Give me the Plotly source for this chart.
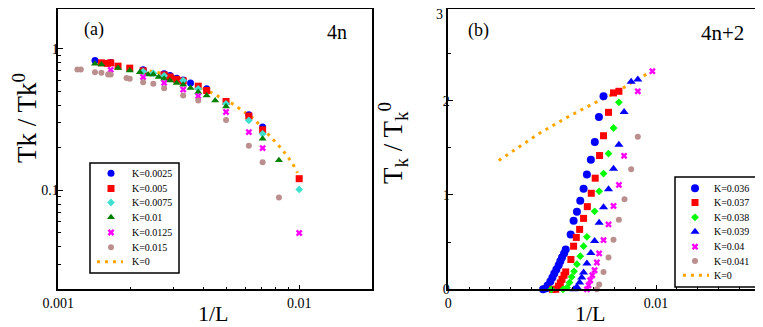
import plotly.graph_objects as go

# ---------------- data: panel (a), 4n ----------------
a_labels = ["K=0.0025", "K=0.005", "K=0.0075", "K=0.01", "K=0.0125", "K=0.015", "K=0"]

a_x_0025 = [0.00142, 0.00165, 0.00225, 0.00275, 0.00291, 0.0031, 0.0033, 0.00354, 0.00413, 0.00618, 0.00705]
a_y_0025 = [0.827, 0.803, 0.711, 0.666, 0.648, 0.621, 0.604, 0.575, 0.522, 0.342, 0.280]

a_x_005 = [0.00151, 0.0016, 0.00165, 0.00177, 0.00198, 0.00225, 0.00275, 0.00291, 0.0031, 0.0033, 0.00381, 0.00413, 0.00497, 0.00618, 0.00705, 0.01]
a_y_005 = [0.797, 0.790, 0.797, 0.755, 0.731, 0.699, 0.655, 0.634, 0.609, 0.594, 0.545, 0.508, 0.425, 0.335, 0.268, 0.121]

a_x_0075 = [0.00225, 0.00248, 0.00275, 0.0033, 0.00381, 0.00497, 0.00618, 0.00705, 0.01]
a_y_0075 = [0.691, 0.674, 0.645, 0.597, 0.522, 0.409, 0.312, 0.251, 0.1016]

a_x_01 = [0.00142, 0.00151, 0.00177, 0.00198, 0.00218, 0.00236, 0.00248, 0.00261, 0.00275, 0.00291, 0.0031, 0.0033, 0.00354, 0.00381, 0.00413, 0.00448, 0.00497, 0.00705, 0.00824]
a_y_01 = [0.784, 0.775, 0.734, 0.703, 0.685, 0.659, 0.659, 0.632, 0.614, 0.597, 0.575, 0.557, 0.530, 0.495, 0.468, 0.432, 0.392, 0.232, 0.163]

a_x_0125 = [0.00165, 0.00225, 0.00275, 0.0033, 0.00381, 0.00497, 0.00618, 0.00705, 0.01]
a_y_0125 = [0.711, 0.632, 0.575, 0.516, 0.464, 0.358, 0.258, 0.199, 0.050]

a_x_015 = [0.0012, 0.00124, 0.00142, 0.00151, 0.00161, 0.00165, 0.00192, 0.00198, 0.00225, 0.00248, 0.00275, 0.0033, 0.00381, 0.00497, 0.00618, 0.00705, 0.00824]
a_y_015 = [0.714, 0.714, 0.685, 0.677, 0.659, 0.659, 0.624, 0.614, 0.582, 0.566, 0.528, 0.468, 0.432, 0.315, 0.207, 0.158, 0.089]

a_x_k0 = [0.00222, 0.00275, 0.00352, 0.00438, 0.00535, 0.00648, 0.00765, 0.0085, 0.00938, 0.00984]
a_y_k0 = [0.716, 0.666, 0.590, 0.487, 0.405, 0.321, 0.239, 0.195, 0.155, 0.133]

# ---------------- data: panel (b), 4n+2 ----------------
b_labels = ["K=0.036", "K=0.037", "K=0.038", "K=0.039", "K=0.04", "K=0.041", "K=0"]

b_x_036 = [0.00456, 0.00471, 0.00478, 0.00491, 0.00501, 0.0051, 0.0052, 0.00531, 0.00539, 0.00547, 0.00557, 0.00565, 0.00589, 0.00603, 0.00619, 0.00635, 0.00651, 0.00667, 0.00686, 0.00705, 0.00725, 0.00747]
b_y_036 = [0.0, 0.01, 0.039, 0.082, 0.124, 0.167, 0.209, 0.255, 0.298, 0.337, 0.380, 0.422, 0.582, 0.727, 0.822, 0.939, 1.067, 1.216, 1.372, 1.561, 1.827, 2.046]

b_x_037 = [0.00501, 0.00517, 0.0053, 0.00539, 0.00547, 0.00557, 0.00565, 0.0059, 0.00603, 0.00616, 0.00632, 0.00651, 0.00669, 0.00688, 0.00707, 0.00728, 0.00747, 0.00771, 0.00795, 0.00821]
b_y_037 = [0.0, 0.0, 0.032, 0.067, 0.106, 0.149, 0.184, 0.316, 0.457, 0.550, 0.635, 0.752, 0.876, 1.018, 1.178, 1.418, 1.628, 1.876, 2.082, 2.099]

b_x_038 = [0.00496, 0.00552, 0.00571, 0.00583, 0.00594, 0.00605, 0.00619, 0.00635, 0.00651, 0.00667, 0.00704, 0.00726, 0.00747, 0.00771, 0.00795, 0.00821]
b_y_038 = [0.0, 0.0, 0.018, 0.071, 0.131, 0.191, 0.266, 0.351, 0.457, 0.556, 0.827, 1.039, 1.227, 1.439, 1.71, 1.982]

b_x_039 = [0.00605, 0.00619, 0.00632, 0.00642, 0.00651, 0.00667, 0.00686, 0.00704, 0.00726, 0.00747, 0.00771, 0.00795, 0.00821, 0.00846, 0.0088, 0.00912]
b_y_039 = [0.0, 0.024, 0.071, 0.124, 0.178, 0.273, 0.386, 0.511, 0.705, 0.869, 1.061, 1.277, 1.532, 1.88, 2.199, 2.223]

b_x_04 = [0.00667, 0.00675, 0.00683, 0.00693, 0.00704, 0.00715, 0.00726, 0.00747, 0.00771, 0.00795, 0.00821, 0.00846, 0.00912, 0.00982]
b_y_04 = [0.0, 0.043, 0.096, 0.149, 0.202, 0.284, 0.380, 0.521, 0.688, 0.883, 1.106, 1.415, 2.099, 2.312]

b_x_041 = [0.00715, 0.00726, 0.00747, 0.00771, 0.00795, 0.00821, 0.00848, 0.0088, 0.00912]
b_y_041 = [0.0, 0.051, 0.184, 0.337, 0.524, 0.737, 0.954, 1.273, 1.617]

b_x_k0 = [0.00243, 0.00435, 0.00568, 0.00704, 0.00805, 0.00872, 0.00971]
b_y_k0 = [1.365, 1.649, 1.819, 1.976, 2.082, 2.178, 2.301]

# tick labels
a_xticks = [0.001, 0.01]
a_xticktext = ["0.001", "0.01"]
a_yticks = [0.1, 1]
a_yticktext = ["0.1", "1"]
b_xticks = [0, 0.01]
b_xticktext = ["0", "0.01"]
b_yticks = [0, 1, 2]
b_top_label = "3"

# ---------------- styles ----------------
FONT = "Liberation Serif, Times New Roman, serif"
ORANGE = "#ffa500"
DOT = "3px,5px"

a_styles = [
    dict(symbol="circle", color="#0000ff", size=7),
    dict(symbol="square", color="#ff0000", size=7),
    dict(symbol="diamond", color="#40e0d0", size=6),
    dict(symbol="triangle-up", color="#008000", size=7),
    dict(symbol="x", color="#ff00ff", size=6),
    dict(symbol="circle", color="#bc8f8f", size=6),
]
b_styles = [
    dict(symbol="circle", color="#0000ff", size=8),
    dict(symbol="square", color="#ff0000", size=7),
    dict(symbol="diamond", color="#00ff00", size=6),
    dict(symbol="triangle-up", color="#0000ff", size=8),
    dict(symbol="x", color="#ff00ff", size=6),
    dict(symbol="circle", color="#bc8f8f", size=6),
]

# The page body has an 8px margin: the figure's origin lands at screen (8, 8).
OFF = 8
W, H = 763 - OFF, 327 - OFF


def fx(px):
    return (px - OFF) / W


def fy(py):
    return 1 - (py - OFF) / H


fig = go.Figure()

a_series = [(a_x_0025, a_y_0025), (a_x_005, a_y_005), (a_x_0075, a_y_0075),
            (a_x_01, a_y_01), (a_x_0125, a_y_0125), (a_x_015, a_y_015)]
b_series = [(b_x_036, b_y_036), (b_x_037, b_y_037), (b_x_038, b_y_038),
            (b_x_039, b_y_039), (b_x_04, b_y_04), (b_x_041, b_y_041)]

fig.add_trace(go.Scatter(x=a_x_k0, y=a_y_k0, mode="lines", xaxis="x", yaxis="y",
                         line=dict(color=ORANGE, width=3, dash=DOT), showlegend=False))
for (xs, ys), st, lab in zip(a_series, a_styles, a_labels):
    fig.add_trace(go.Scatter(x=xs, y=ys, mode="markers", xaxis="x", yaxis="y", name=lab,
                             marker=dict(symbol=st["symbol"], color=st["color"], size=st["size"], line=dict(width=0)),
                             cliponaxis=False, showlegend=False))

fig.add_trace(go.Scatter(x=b_x_k0, y=b_y_k0, mode="lines", xaxis="x2", yaxis="y2",
                         line=dict(color=ORANGE, width=3, dash=DOT), showlegend=False))
for (xs, ys), st, lab in zip(b_series, b_styles, b_labels):
    fig.add_trace(go.Scatter(x=xs, y=ys, mode="markers", xaxis="x2", yaxis="y2", name=lab,
                             marker=dict(symbol=st["symbol"], color=st["color"], size=st["size"], line=dict(width=0)),
                             cliponaxis=False, showlegend=False))


# ---------------- manual legends on a screen-pixel overlay axis ----------------
def add_legend(labels, styles, box, marker_x, text_x, ys, dot_x0, dot_x1):
    x0, y0, x1, y1 = box
    fig.add_shape(type="rect", xref="x3", yref="y3", x0=x0, y0=y0, x1=x1, y1=y1,
                  line=dict(color="black", width=1.5), fillcolor="rgba(0,0,0,0)")
    for lab, st, yy in zip(labels[:-1], styles, ys[:-1]):
        fig.add_trace(go.Scatter(x=[marker_x], y=[yy], mode="markers", xaxis="x3", yaxis="y3",
                                 marker=dict(symbol=st["symbol"], color=st["color"], size=st["size"], line=dict(width=0)),
                                 showlegend=False, hoverinfo="skip"))
    fig.add_trace(go.Scatter(x=[dot_x0, dot_x1], y=[ys[-1], ys[-1]], mode="lines", xaxis="x3", yaxis="y3",
                             line=dict(color=ORANGE, width=3, dash=DOT), showlegend=False, hoverinfo="skip"))
    for lab, yy in zip(labels, ys):
        fig.add_annotation(x=text_x, y=yy, xref="x3", yref="y3", text=lab, showarrow=False,
                           xanchor="left", yanchor="middle", font=dict(family=FONT, size=10, color="black"))


add_legend(a_labels, a_styles, (90, 163, 179, 273), 111, 130,
           [173.3, 188.5, 202.5, 217.3, 232.5, 247.3, 261.7], 97, 123)
add_legend(b_labels, b_styles, (675, 177, 757, 287), 695, 712,
           [188.3, 202.5, 217.3, 231.7, 246.7, 261.0, 275.3], 683, 709)


# ---------------- texts ----------------
def txt(x, y, s, size, angle=0, xanchor="center"):
    fig.add_annotation(x=x, y=y, xref="x3", yref="y3", text=s, showarrow=False,
                       xanchor=xanchor, yanchor="middle", textangle=angle,
                       font=dict(family=FONT, size=size, color="black"))


txt(94, 29, "(a)", 18)
txt(337, 32, "4n", 20)
txt(478, 30, "(b)", 18)
txt(722, 33, "4n+2", 21)
txt(213, 313, "1/L", 22)
txt(590, 313, "1/L", 22)
txt(25, 118, "Tk / Tk<sup>0</sup>", 27, -90)
txt(393, 143, "T<sub>k</sub> / T<sub>k</sub><sup>0</sup>", 27, -90)
txt(445, 14, b_top_label, 14, xanchor="right")

# ---------------- axes ----------------
TOP_PX, BOT_PX = 9.0, 289.3
ref_top, ref_bot = 6.3, 289.3
# keep the reference's data scale with the slightly lowered top edge
a_ylo, a_yhi = -1.69897, 0.30103
a_ytop = a_yhi - (TOP_PX - ref_top) * (a_yhi - a_ylo) / (ref_bot - ref_top)
b_ytop = 3 - (TOP_PX - ref_top) * 3 / (ref_bot - ref_top)

yb, yt = fy(BOT_PX), fy(TOP_PX)
common = dict(showgrid=False, zeroline=False, showline=True, linecolor="black", linewidth=1.5,
              mirror=True, ticks="inside", ticklen=5, tickwidth=1, tickcolor="black",
              automargin=False,
              tickfont=dict(family=FONT, size=14, color="black"))

fig.update_layout(
    width=W, height=H, autosize=False,
    margin=dict(l=0, r=0, t=0, b=0, pad=0, autoexpand=False),
    paper_bgcolor="white", plot_bgcolor="rgba(0,0,0,0)",
    showlegend=False,
    xaxis=dict(domain=[fx(58.3), fx(371.7)], anchor="y", type="log", range=[-3, -1.69897],
               tickvals=a_xticks, ticktext=a_xticktext,
               minor=dict(tickvals=[0.002, 0.003, 0.004, 0.005, 0.006, 0.007, 0.008, 0.009, 0.02],
                          ticks="inside", ticklen=3, tickcolor="black"),
               **common),
    yaxis=dict(domain=[yb, yt], anchor="x", type="log", range=[a_ylo, a_ytop],
               tickvals=a_yticks, ticktext=a_yticktext, ticklabelstandoff=-5,
               minor=dict(tickvals=[0.02, 0.03, 0.04, 0.05, 0.06, 0.07, 0.08, 0.09,
                                    0.2, 0.3, 0.4, 0.5, 0.6, 0.7, 0.8, 0.9],
                          ticks="inside", ticklen=3, tickcolor="black"),
               **common),
    xaxis2=dict(domain=[fx(448.3), fx(760)], anchor="y2", range=[0, 0.015],
                tickvals=b_xticks, ticktext=b_xticktext,
                minor=dict(dtick=0.001, ticks="inside", ticklen=3, tickcolor="black"),
                **common),
    yaxis2=dict(domain=[yb, yt], anchor="x2", range=[0, b_ytop], tickvals=b_yticks,
                ticklabelstandoff=-6,
                minor=dict(dtick=0.5, ticks="inside", ticklen=3, tickcolor="black"),
                **common),
    xaxis3=dict(domain=[0, 1], anchor="y3", range=[OFF, OFF + W], visible=False, fixedrange=True, automargin=False),
    yaxis3=dict(domain=[0, 1], anchor="x3", range=[OFF + H, OFF], visible=False, fixedrange=True, automargin=False),
)

fig.write_html("out.html")
